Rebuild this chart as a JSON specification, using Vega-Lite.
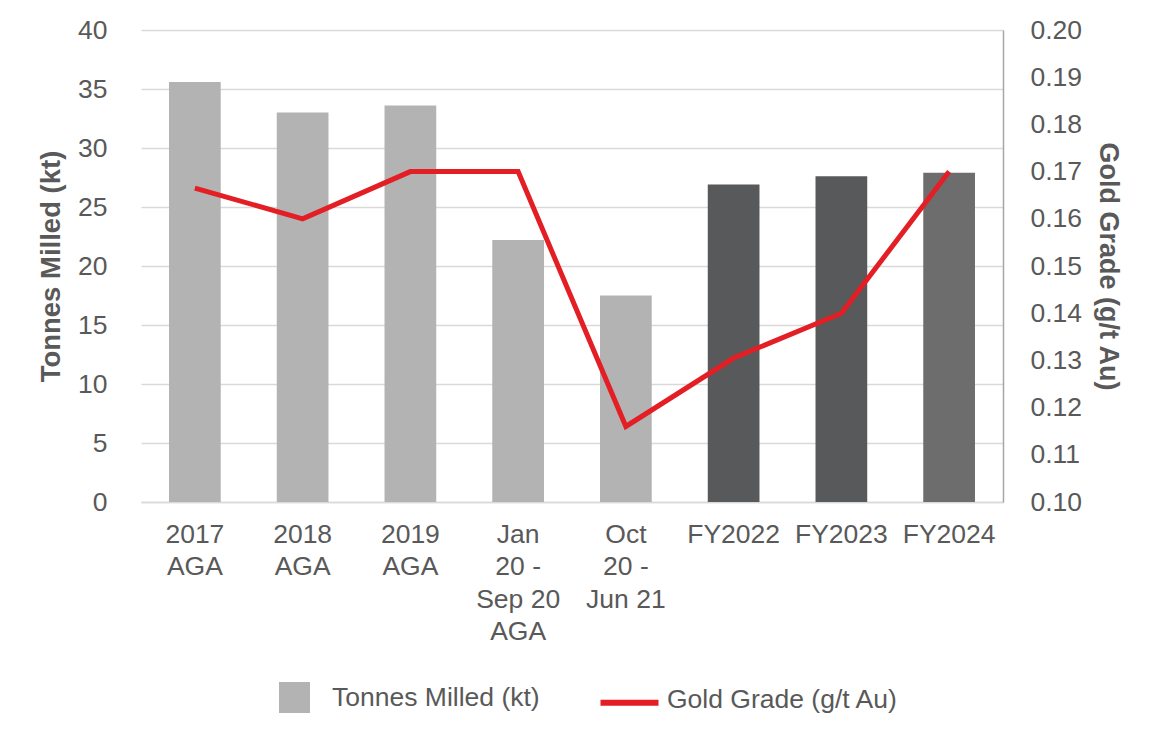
{
  "$schema": "https://vega.github.io/schema/vega-lite/v6.json",
  "autosize": "none",
  "padding": {"left": 141, "top": 30, "right": 161, "bottom": 252},
  "width": 862,
  "height": 472,
  "background": "white",
  "data": {
    "values": [
      {"period": "2017|AGA", "tonnes": 35.6, "grade": 0.1665, "grp": "hist"},
      {"period": "2018|AGA", "tonnes": 33.0, "grade": 0.160, "grp": "hist"},
      {"period": "2019|AGA", "tonnes": 33.6, "grade": 0.170, "grp": "hist"},
      {"period": "Jan|20 -|Sep 20|AGA", "tonnes": 22.2, "grade": 0.170, "grp": "hist"},
      {"period": "Oct|20 -|Jun 21", "tonnes": 17.5, "grade": 0.116, "grp": "hist"},
      {"period": "FY2022", "tonnes": 26.9, "grade": 0.1305, "grp": "fy"},
      {"period": "FY2023", "tonnes": 27.6, "grade": 0.140, "grp": "fy"},
      {"period": "FY2024", "tonnes": 27.9, "grade": 0.170, "grp": "fy24"}
    ]
  },
  "encoding": {
    "x": {
      "field": "period",
      "type": "nominal",
      "sort": null,
      "scale": {"paddingInner": 0.52, "paddingOuter": 0.26},
      "axis": {
        "title": null,
        "labelAngle": 0,
        "labelExpr": "split(datum.label, '|')",
        "labelFontSize": 26.5,
        "labelLineHeight": 32.5,
        "labelPadding": 19,
        "labelColor": "#595959",
        "labelBaseline": "top",
        "ticks": false,
        "domainColor": "#d9d9d9",
        "domainWidth": 1.5,
        "grid": false
      }
    }
  },
  "layer": [
    {
      "mark": {"type": "bar"},
      "encoding": {
        "y": {
          "field": "tonnes",
          "type": "quantitative",
          "scale": {"domain": [0, 40]},
          "axis": {
            "title": "Tonnes Milled (kt)",
            "orient": "left",
            "values": [0, 5, 10, 15, 20, 25, 30, 35, 40],
            "labelFontSize": 26.5,
            "labelColor": "#595959",
            "labelPadding": 34,
            "ticks": false,
            "domain": false,
            "grid": true,
            "gridColor": "#d9d9d9",
            "gridWidth": 1.5,
            "titleFontSize": 27.5,
            "titleFontWeight": "bold",
            "titleColor": "#595959",
            "titlePadding": 12
          }
        },
        "color": {
          "datum": "Tonnes Milled (kt)",
          "type": "nominal",
          "scale": {
            "domain": ["Tonnes Milled (kt)", "Gold Grade (g/t Au)"],
            "range": ["#b3b3b3", "#e31e24"]
          },
          "legend": {
            "orient": "none",
            "direction": "horizontal",
            "legendX": 138,
            "legendY": 652,
            "title": null,
            "labelFontSize": 26.5,
            "labelColor": "#595959",
            "labelOffset": 22,
            "labelLimit": 400,
            "columnPadding": 48,
            "symbolStrokeWidth": 6,
            "encode": {
              "labels": {
                "update": {
                  "dy": {"signal": "datum.value === 'Gold Grade (g/t Au)' ? -5 : 0"}
                }
              },
              "symbols": {
                "update": {
                  "shape": {"signal": "datum.value === 'Gold Grade (g/t Au)' ? 'M-1,-0.07H1' : 'square'"},
                  "size": {"signal": "datum.value === 'Gold Grade (g/t Au)' ? 3364 : 625"},
                  "fill": {"signal": "datum.value === 'Gold Grade (g/t Au)' ? 'transparent' : '#b3b3b3'"},
                  "stroke": {"signal": "datum.value === 'Gold Grade (g/t Au)' ? '#e31e24' : 'transparent'"},
                  "strokeWidth": {"value": 6},
                  "opacity": {"value": 1}
                }
              }
            }
          }
        },
        "fill": {
          "field": "grp",
          "type": "nominal",
          "scale": {"domain": ["hist", "fy", "fy24"], "range": ["#b3b3b3", "#58595b", "#6d6d6d"]},
          "legend": null
        }
      }
    },
    {
      "mark": {"type": "line", "strokeWidth": 5, "strokeJoin": "miter"},
      "encoding": {
        "y": {
          "field": "grade",
          "type": "quantitative",
          "scale": {"domain": [0.1, 0.2]},
          "axis": {
            "title": "Gold Grade (g/t Au)",
            "orient": "right",
            "values": [0.10, 0.11, 0.12, 0.13, 0.14, 0.15, 0.16, 0.17, 0.18, 0.19, 0.20],
            "format": ".2f",
            "labelFontSize": 26.5,
            "labelColor": "#595959",
            "labelPadding": 27,
            "ticks": false,
            "domain": true,
            "domainColor": "#a6a6a6",
            "domainWidth": 1.5,
            "grid": false,
            "titleFontSize": 27,
            "titleFontWeight": "bold",
            "titleColor": "#595959",
            "titlePadding": 12
          }
        },
        "color": {
          "datum": "Gold Grade (g/t Au)",
          "type": "nominal",
          "scale": {
            "domain": ["Tonnes Milled (kt)", "Gold Grade (g/t Au)"],
            "range": ["#b3b3b3", "#e31e24"]
          },
          "legend": {
            "orient": "none",
            "direction": "horizontal",
            "legendX": 138,
            "legendY": 652,
            "title": null,
            "labelFontSize": 26.5,
            "labelColor": "#595959",
            "labelOffset": 22,
            "labelLimit": 400,
            "columnPadding": 48,
            "symbolStrokeWidth": 6,
            "encode": {
              "labels": {
                "update": {
                  "dy": {"signal": "datum.value === 'Gold Grade (g/t Au)' ? -5 : 0"}
                }
              },
              "symbols": {
                "update": {
                  "shape": {"signal": "datum.value === 'Gold Grade (g/t Au)' ? 'M-1,-0.07H1' : 'square'"},
                  "size": {"signal": "datum.value === 'Gold Grade (g/t Au)' ? 3364 : 625"},
                  "fill": {"signal": "datum.value === 'Gold Grade (g/t Au)' ? 'transparent' : '#b3b3b3'"},
                  "stroke": {"signal": "datum.value === 'Gold Grade (g/t Au)' ? '#e31e24' : 'transparent'"},
                  "strokeWidth": {"value": 6},
                  "opacity": {"value": 1}
                }
              }
            }
          }
        }
      }
    }
  ],
  "resolve": {"scale": {"y": "independent", "color": "shared"}, "legend": {"color": "shared"}},
  "config": {
    "font": "Liberation Sans",
    "view": {"stroke": null}
  }
}
